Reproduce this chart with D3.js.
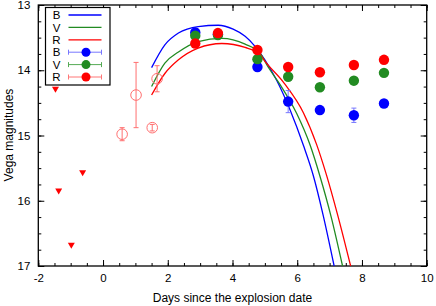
<!DOCTYPE html>
<html>
<head>
<meta charset="utf-8">
<script src="https://cdn.jsdelivr.net/npm/d3@7"></script>
<style>
  body { margin: 0; background: #fff; }
  text { font-family: "Liberation Sans", Arial, sans-serif; }
</style>
</head>
<body>
<div id="container"></div>
<script>
/* DATA */
const pointDays = [2.85, 3.55, 4.77, 5.72, 6.70, 7.75, 8.68];
const bMag = [13.42, 13.45, 13.95, 14.48, 14.61, 14.69, 14.51];
const vMag = [13.47, 13.46, 13.83, 14.10, 14.26, 14.16, 14.04];
const rMag = [13.59, 13.43, 13.69, 13.95, 14.03, 13.92, 13.84];
const bErr = [0.06, 0.03, 0.03, 0.17, 0.03, 0.11, 0.04];

const earlyDays = [0.59, 1.02, 1.52, 1.67];
const earlyMag = [14.98, 14.38, 14.88, 14.13];
const earlyErr = [0.10, 0.50, 0.05, 0.20];

const limitDays = [-1.47, -1.37, -0.98, -0.63];
const limitMag = [14.30, 15.86, 16.69, 15.58];

// model curves
const bModelDays = [1.50, 1.91, 2.33, 2.94, 3.56, 4.02, 4.39, 4.69, 5.00, 5.36, 5.78, 6.19, 6.50, 6.80, 7.14];
const bModelMag  = [13.96, 13.61, 13.43, 13.33, 13.31, 13.37, 13.48, 13.63, 13.84, 14.15, 14.61, 15.15, 15.62, 16.22, 17.0];
const vModelDays = [1.50, 1.91, 2.33, 2.94, 3.67, 4.39, 4.85, 5.10, 5.47, 5.98, 6.40, 6.70, 7.05, 7.40];
const vModelMag  = [14.25, 13.89, 13.72, 13.56, 13.51, 13.60, 13.74, 13.95, 14.22, 14.66, 15.15, 15.62, 16.25, 17.0];
const rModelDays = [1.50, 1.91, 2.33, 2.94, 3.67, 4.39, 4.85, 5.00, 5.60, 6.19, 6.60, 6.90, 7.25, 7.65];
const rModelMag  = [14.38, 14.05, 13.84, 13.66, 13.59, 13.65, 13.76, 13.86, 14.20, 14.65, 15.14, 15.60, 16.22, 17.0];

const xTicks = [-2, 0, 2, 4, 6, 8, 10];
const yTicks = [13, 14, 15, 16, 17];

/* CONSTANTS */
const width = 436, height = 306;
const margin = {left: 38.3, right: 426.7, top: 5, bottom: 266};
const blue = "#0000ff", green = "#228b22", red = "#ff0000", pale = "#ff7070";

const svg = d3.select("#container").append("svg")
  .attr("width", width).attr("height", height);

const x = d3.scaleLinear().domain([-2, 10]).range([margin.left, margin.right]);
const y = d3.scaleLinear().domain([13, 17]).range([margin.top, margin.bottom]);

svg.append("clipPath").attr("id", "clip")
  .append("rect").attr("x", margin.left).attr("y", margin.top)
  .attr("width", margin.right - margin.left).attr("height", margin.bottom - margin.top);

/* AXES - ticks inside, mirrored */
const fmt = d => String(d);
const xMinor = d3.range(-2, 10.01, 0.5), yMinor = d3.range(13, 17.01, 0.25);
svg.append("g").attr("transform", `translate(0,${margin.bottom})`)
  .call(d3.axisBottom(x).tickValues(xMinor).tickSize(-3).tickFormat(""));
svg.append("g").attr("transform", `translate(0,${margin.bottom})`)
  .call(d3.axisBottom(x).tickValues(xTicks).tickSize(-6).tickPadding(8).tickFormat(fmt));
svg.append("g").attr("transform", `translate(0,${margin.top})`)
  .call(d3.axisTop(x).tickValues(xMinor).tickSize(-3).tickFormat(""));
svg.append("g").attr("transform", `translate(0,${margin.top})`)
  .call(d3.axisTop(x).tickValues(xTicks).tickSize(-6).tickFormat(""));
svg.append("g").attr("transform", `translate(${margin.left},0)`)
  .call(d3.axisLeft(y).tickValues(yMinor).tickSize(-3).tickFormat(""));
svg.append("g").attr("transform", `translate(${margin.left},0)`)
  .call(d3.axisLeft(y).tickValues(yTicks).tickSize(-6).tickPadding(8).tickFormat(fmt));
svg.append("g").attr("transform", `translate(${margin.right},0)`)
  .call(d3.axisRight(y).tickValues(yMinor).tickSize(-3).tickFormat(""));
svg.append("g").attr("transform", `translate(${margin.right},0)`)
  .call(d3.axisRight(y).tickValues(yTicks).tickSize(-6).tickFormat(""));
svg.selectAll(".domain").remove();
svg.selectAll(".tick text").attr("font-size", 11.5).attr("fill", "#000")
  .attr("font-family", "Liberation Sans, Arial, sans-serif");
svg.selectAll(".tick line").attr("stroke", "#000");

svg.append("rect").attr("x", margin.left).attr("y", margin.top)
  .attr("width", margin.right - margin.left).attr("height", margin.bottom - margin.top)
  .attr("fill", "none").attr("stroke", "#000").attr("stroke-width", 1.3);

svg.append("text").attr("x", 232.5).attr("y", 301.5).attr("text-anchor", "middle")
  .attr("font-size", 12).text("Days since the explosion date");
svg.append("text").attr("transform", "translate(13,135) rotate(-90)")
  .attr("text-anchor", "middle").attr("font-size", 12).text("Vega magnitudes");

const plot = svg.append("g").attr("clip-path", "url(#clip)");

/* MODEL CURVES */
const line = d3.line().x(d => x(d[0])).y(d => y(d[1])).curve(d3.curveMonotoneX);
[[bModelDays, bModelMag, blue], [vModelDays, vModelMag, green], [rModelDays, rModelMag, red]]
  .forEach(([xs, ys, c]) => {
    plot.append("path").datum(xs.map((d, i) => [d, ys[i]]))
      .attr("d", line).attr("fill", "none").attr("stroke", c).attr("stroke-width", 1.3);
  });

/* EARLY OPEN POINTS */
const early = earlyDays.map((d, i) => ({x: d, m: earlyMag[i], e: earlyErr[i]}));
const eg = plot.selectAll("g.early").data(early).join("g").attr("class", "early");
eg.append("line").attr("x1", d => x(d.x)).attr("x2", d => x(d.x))
  .attr("y1", d => y(d.m - d.e)).attr("y2", d => y(d.m + d.e)).attr("stroke", pale);
eg.append("line").attr("x1", d => x(d.x) - 2.5).attr("x2", d => x(d.x) + 2.5)
  .attr("y1", d => y(d.m - d.e)).attr("y2", d => y(d.m - d.e)).attr("stroke", pale);
eg.append("line").attr("x1", d => x(d.x) - 2.5).attr("x2", d => x(d.x) + 2.5)
  .attr("y1", d => y(d.m + d.e)).attr("y2", d => y(d.m + d.e)).attr("stroke", pale);
eg.append("circle").attr("cx", d => x(d.x)).attr("cy", d => y(d.m)).attr("r", 5.3)
  .attr("fill", "none").attr("stroke", pale);

/* UPPER LIMITS */
plot.selectAll("path.lim").data(limitDays.map((d, i) => [d, limitMag[i]])).join("path")
  .attr("class", "lim")
  .attr("d", d => `M${x(d[0]) - 3.5},${y(d[1]) - 3}L${x(d[0]) + 3.5},${y(d[1]) - 3}L${x(d[0])},${y(d[1]) + 3}Z`)
  .attr("fill", red);

/* BAND POINTS */
const drawPts = (mags, errs, c, ec) => {
  const pts = pointDays.map((d, i) => ({x: d, m: mags[i], e: errs ? errs[i] : 0}));
  if (errs) {
    const g = plot.append("g").attr("stroke", ec);
    pts.forEach(p => {
      g.append("line").attr("x1", x(p.x)).attr("x2", x(p.x)).attr("y1", y(p.m - p.e)).attr("y2", y(p.m + p.e));
      g.append("line").attr("x1", x(p.x) - 2.5).attr("x2", x(p.x) + 2.5).attr("y1", y(p.m - p.e)).attr("y2", y(p.m - p.e));
      g.append("line").attr("x1", x(p.x) - 2.5).attr("x2", x(p.x) + 2.5).attr("y1", y(p.m + p.e)).attr("y2", y(p.m + p.e));
    });
  }
  plot.append("g").selectAll("circle").data(pts).join("circle")
    .attr("cx", d => x(d.x)).attr("cy", d => y(d.m)).attr("r", 5.2).attr("fill", c);
};
drawPts(bMag, bErr, blue, "#7777ff");
drawPts(vMag, null, green);
drawPts(rMag, null, red);

/* LEGEND */
const lg = svg.append("g");
lg.append("rect").attr("x", 45.5).attr("y", 7.5).attr("width", 64.5).attr("height", 77.5)
  .attr("fill", "#fff").attr("stroke", "#000").attr("stroke-width", 1.2);
const entries = [["B", blue, false], ["V", green, false], ["R", red, false],
                 ["B", blue, true], ["V", green, true], ["R", red, true]];
const errCol = {[blue]: "#7777ff", [green]: "#55aa55", [red]: "#ff7777"};
entries.forEach(([t, c, pt], i) => {
  const yy = 15 + i * 12.4;
  lg.append("text").attr("x", 56.5).attr("y", yy + 4.2).attr("text-anchor", "middle")
    .attr("font-size", 11.5).text(t);
  if (!pt) {
    lg.append("line").attr("x1", 68.5).attr("x2", 101.5).attr("y1", yy).attr("y2", yy)
      .attr("stroke", c).attr("stroke-width", 1.3);
  } else {
    const ec = errCol[c];
    lg.append("line").attr("x1", 68.5).attr("x2", 101.5).attr("y1", yy).attr("y2", yy).attr("stroke", ec);
    lg.append("line").attr("x1", 68.5).attr("x2", 68.5).attr("y1", yy - 2.5).attr("y2", yy + 2.5).attr("stroke", ec);
    lg.append("line").attr("x1", 101.5).attr("x2", 101.5).attr("y1", yy - 2.5).attr("y2", yy + 2.5).attr("stroke", ec);
    lg.append("circle").attr("cx", 86).attr("cy", yy).attr("r", 4.5).attr("fill", c);
  }
});
</script>
</body>
</html>
